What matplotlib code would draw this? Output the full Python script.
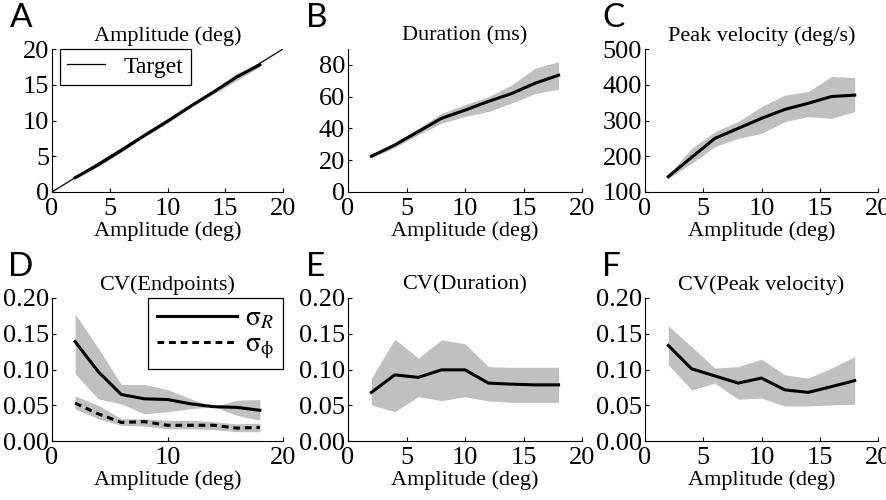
import numpy as np
import matplotlib
matplotlib.use('Agg')
import matplotlib.pyplot as plt
from matplotlib.ticker import FormatStrFormatter

plt.rcParams['font.family'] = ['Liberation Serif', 'DejaVu Serif']
plt.rcParams['mathtext.fontset'] = 'stix'

amp = [2, 4, 6, 8, 10, 12, 14, 16, 18]

# A: amplitude
amp_mean = [2.0, 3.8, 5.8, 7.9, 9.9, 12.0, 14.0, 16.1, 17.8]
amp_lo = [1.8, 3.6, 5.6, 7.7, 9.6, 11.8, 13.7, 15.6, 17.5]
amp_hi = [2.2, 4.0, 6.0, 8.1, 10.2, 12.2, 14.3, 16.6, 18.1]

# B: duration (ms)
dur_mean = [22.5, 29.6, 38.0, 46.4, 51.5, 57.0, 62.0, 68.5, 73.5]
dur_lo = [21.5, 28.0, 36.0, 43.3, 47.5, 50.6, 56.0, 62.0, 64.7]
dur_hi = [23.5, 31.0, 40.0, 49.6, 55.0, 60.0, 67.4, 78.0, 82.0]

# C: peak velocity (deg/s)
vel_mean = [143, 197, 250, 278, 306, 331, 348, 367, 371]
vel_lo = [138, 180, 227, 250, 264, 297, 311, 306, 325]
vel_hi = [148, 222, 269, 297, 339, 371, 381, 423, 420]

# D: CV endpoints
cvr_mean = [0.139, 0.097, 0.065, 0.059, 0.058, 0.052, 0.048, 0.047, 0.043]
cvr_lo = [0.094, 0.059, 0.052, 0.038, 0.041, 0.045, 0.048, 0.036, 0.029]
cvr_hi = [0.178, 0.130, 0.079, 0.079, 0.072, 0.059, 0.048, 0.057, 0.058]
cvp_mean = [0.053, 0.038, 0.026, 0.027, 0.022, 0.022, 0.022, 0.018, 0.019]
cvp_lo = [0.045, 0.031, 0.022, 0.021, 0.017, 0.017, 0.016, 0.013, 0.013]
cvp_hi = [0.063, 0.050, 0.031, 0.031, 0.029, 0.029, 0.027, 0.024, 0.025]

# E: CV duration
cvd_mean = [0.068, 0.0925, 0.089, 0.0995, 0.0995, 0.081, 0.0795, 0.0785, 0.0785]
cvd_lo = [0.0505, 0.041, 0.062, 0.0565, 0.062, 0.056, 0.054, 0.054, 0.054]
cvd_hi = [0.088, 0.1425, 0.116, 0.1415, 0.136, 0.104, 0.103, 0.103, 0.103]

# F: CV peak velocity
cvv_mean = [0.1336, 0.101, 0.091, 0.081, 0.088, 0.0715, 0.068, 0.076, 0.0845]
cvv_lo = [0.1065, 0.0715, 0.081, 0.0585, 0.060, 0.049, 0.049, 0.0505, 0.0515]
cvv_hi = [0.161, 0.132, 0.102, 0.104, 0.1145, 0.0925, 0.088, 0.102, 0.118]

W, H = 886, 500
fig = plt.figure(figsize=(W / 100, H / 100), dpi=100)

band = '#c0c0c0'
tick_fs = 19
lab_fs = 16


def make_ax(x0, x1, ytop, ybot):
    ax = fig.add_axes([x0 / W, 1 - ybot / H, (x1 - x0) / W, (ybot - ytop) / H])
    ax.spines['top'].set_visible(False)
    ax.spines['right'].set_visible(False)
    ax.tick_params(direction='in', length=3, labelsize=tick_fs, pad=2)
    ax.tick_params(axis='x', pad=4)
    ax.set_xlabel('Amplitude (deg)', fontsize=lab_fs, labelpad=1)
    ax.set_xlim(0, 20)
    return ax


def letter(x, y, s):
    fig.text(x / W, 1 - y / H, s, fontsize=24, family=['Lato', 'DejaVu Sans'],
             va='top', ha='left')


# A
ax = make_ax(52, 283, 49, 192)
ax.fill_between(amp, amp_lo, amp_hi, color=band, lw=0)
ax.plot([0, 20], [0, 20], color='k', lw=0.9, label='Target')
ax.plot(amp, amp_mean, color='k', lw=2.2)
ax.set_ylim(0, 20)
ax.set_xticks([0, 5, 10, 15, 20])
ax.set_yticks([0, 5, 10, 15, 20])
ax.set_title('Amplitude (deg)', fontsize=lab_fs, pad=6)
leg = ax.legend(loc='upper left', fontsize=17, fancybox=False, edgecolor='k',
                framealpha=1, handlelength=1.6, borderaxespad=0.0, borderpad=0.3,
                bbox_to_anchor=(0.035, 1.0))
leg.get_frame().set_linewidth(0.9)
letter(10, 3, 'A')

# B
ax = make_ax(348, 582, 49, 192)
ax.fill_between(amp, dur_lo, dur_hi, color=band, lw=0)
ax.plot(amp, dur_mean, color='k', lw=2.2)
ax.set_ylim(0, 90)
ax.set_xticks([0, 5, 10, 15, 20])
ax.set_yticks([0, 20, 40, 60, 80])
ax.set_title('Duration (ms)', fontsize=lab_fs, pad=6)
letter(306, 3, 'B')

# C
ax = make_ax(645, 878, 49, 192)
ax.fill_between(amp, vel_lo, vel_hi, color=band, lw=0)
ax.plot(amp, vel_mean, color='k', lw=2.2)
ax.set_ylim(100, 500)
ax.set_xticks([0, 5, 10, 15, 20])
ax.set_yticks([100, 200, 300, 400, 500])
ax.set_title('Peak velocity (deg/s)', fontsize=lab_fs, pad=6)
letter(602, 3, 'C')

# D
ax = make_ax(52, 283, 298, 441)
ax.fill_between(amp, cvr_lo, cvr_hi, color=band, lw=0)
ax.fill_between(amp, cvp_lo, cvp_hi, color=band, lw=0)
ax.plot(amp, cvr_mean, color='k', lw=2.2, label=r'$\mathrm{\sigma}_R$')
ax.plot(amp, cvp_mean, color='k', lw=2.2, ls=(0, (2.2, 1.6)),
        label=r'$\mathrm{\sigma}_\mathrm{\phi}$')
ax.set_ylim(0, 0.2)
ax.set_xticks([0, 10, 20])
ax.set_yticks([0, 0.05, 0.10, 0.15, 0.20])
ax.yaxis.set_major_formatter(FormatStrFormatter('%.2f'))
ax.set_title('CV(Endpoints)', fontsize=lab_fs, pad=6)
leg = ax.legend(loc='upper right', fontsize=20, fancybox=False, edgecolor='k',
                framealpha=1, handlelength=2.9, borderaxespad=0.0, borderpad=0.3,
                labelspacing=0.0, handletextpad=0.3)
leg.get_frame().set_linewidth(0.9)
letter(8, 252, 'D')

# E
ax = make_ax(348, 582, 298, 441)
ax.fill_between(amp, cvd_lo, cvd_hi, color=band, lw=0)
ax.plot(amp, cvd_mean, color='k', lw=2.2)
ax.set_ylim(0, 0.2)
ax.set_xticks([0, 5, 10, 15, 20])
ax.set_yticks([0, 0.05, 0.10, 0.15, 0.20])
ax.yaxis.set_major_formatter(FormatStrFormatter('%.2f'))
ax.set_title('CV(Duration)', fontsize=lab_fs, pad=6)
letter(306, 252, 'E')

# F
ax = make_ax(645, 878, 298, 441)
ax.fill_between(amp, cvv_lo, cvv_hi, color=band, lw=0)
ax.plot(amp, cvv_mean, color='k', lw=2.2)
ax.set_ylim(0, 0.2)
ax.set_xticks([0, 5, 10, 15, 20])
ax.set_yticks([0, 0.05, 0.10, 0.15, 0.20])
ax.yaxis.set_major_formatter(FormatStrFormatter('%.2f'))
ax.set_title('CV(Peak velocity)', fontsize=lab_fs, pad=6)
letter(602, 252, 'F')

plt.savefig('out.png', dpi=100)
plt.close()
